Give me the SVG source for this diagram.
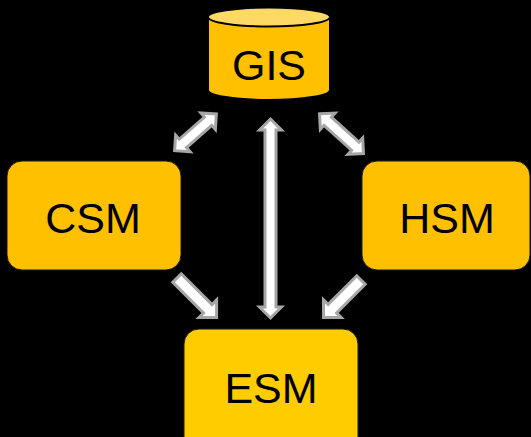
<svg xmlns="http://www.w3.org/2000/svg" width="531" height="437" viewBox="0 0 531 437">
<style>
.box{fill:#FFC000;stroke:#1a1a1a;stroke-width:1}
.lbl{font-family:"Liberation Sans",Arial,sans-serif;font-size:43px;fill:#000;text-anchor:middle}
.arr{fill:#FFFFFF;stroke:#A6A6A6;stroke-width:3;stroke-linejoin:miter}
</style>
<rect x="0" y="0" width="531" height="437" fill="#000"/>
<g id="connectors">
<polygon class="arr" points="270.5,119 281.5,130 276,130 276,307 281.5,307 270.5,318 259.5,307 265,307 265,130 259.5,130"/>
<polygon class="arr" transform="translate(195.5,132.3) rotate(-41.3)" points="-27.8,0 -16.8,-11 -16.8,-5.5 16.8,-5.5 16.8,-11 27.8,0 16.8,11 16.8,5.5 -16.8,5.5 -16.8,11"/>
<polygon class="arr" transform="translate(341.5,133.7) rotate(42.1)" points="-29.6,0 -18.6,-11 -18.6,-5.5 18.6,-5.5 18.6,-11 29.6,0 18.6,11 18.6,5.5 -18.6,5.5 -18.6,11"/>
<polygon class="arr" transform="translate(177,278) rotate(45)" points="0,-6 43.5,-6 43.5,-12.5 56,0 43.5,12.5 43.5,6 0,6"/>
<polygon class="arr" transform="translate(361,280) rotate(135)" points="0,-6 40.5,-6 40.5,-12.5 53,0 40.5,12.5 40.5,6 0,6"/>
</g>
<g id="GIS">
<path d="M208,17 L208,90 A61,10 0 0 0 330,90 L330,17 Z" fill="#FFC000" stroke="#000" stroke-width="2"/>
<ellipse cx="269" cy="17" rx="61" ry="9.5" fill="#FFD966" stroke="#000" stroke-width="2"/>
<text class="lbl" x="269" y="80" font-size="44">GIS</text>
</g>
<g id="CSM">
<rect class="box" x="7" y="161" width="174" height="109" rx="15"/>
<text class="lbl" x="93" y="233">CSM</text>
</g>
<g id="HSM">
<rect class="box" x="362" y="161" width="168" height="109" rx="15"/>
<text class="lbl" x="447" y="233">HSM</text>
</g>
<g id="ESM">
<rect class="box" x="184" y="329" width="174" height="125" rx="15" style="fill:#FFCC00"/>
<text class="lbl" x="271" y="403">ESM</text>
</g>
</svg>
